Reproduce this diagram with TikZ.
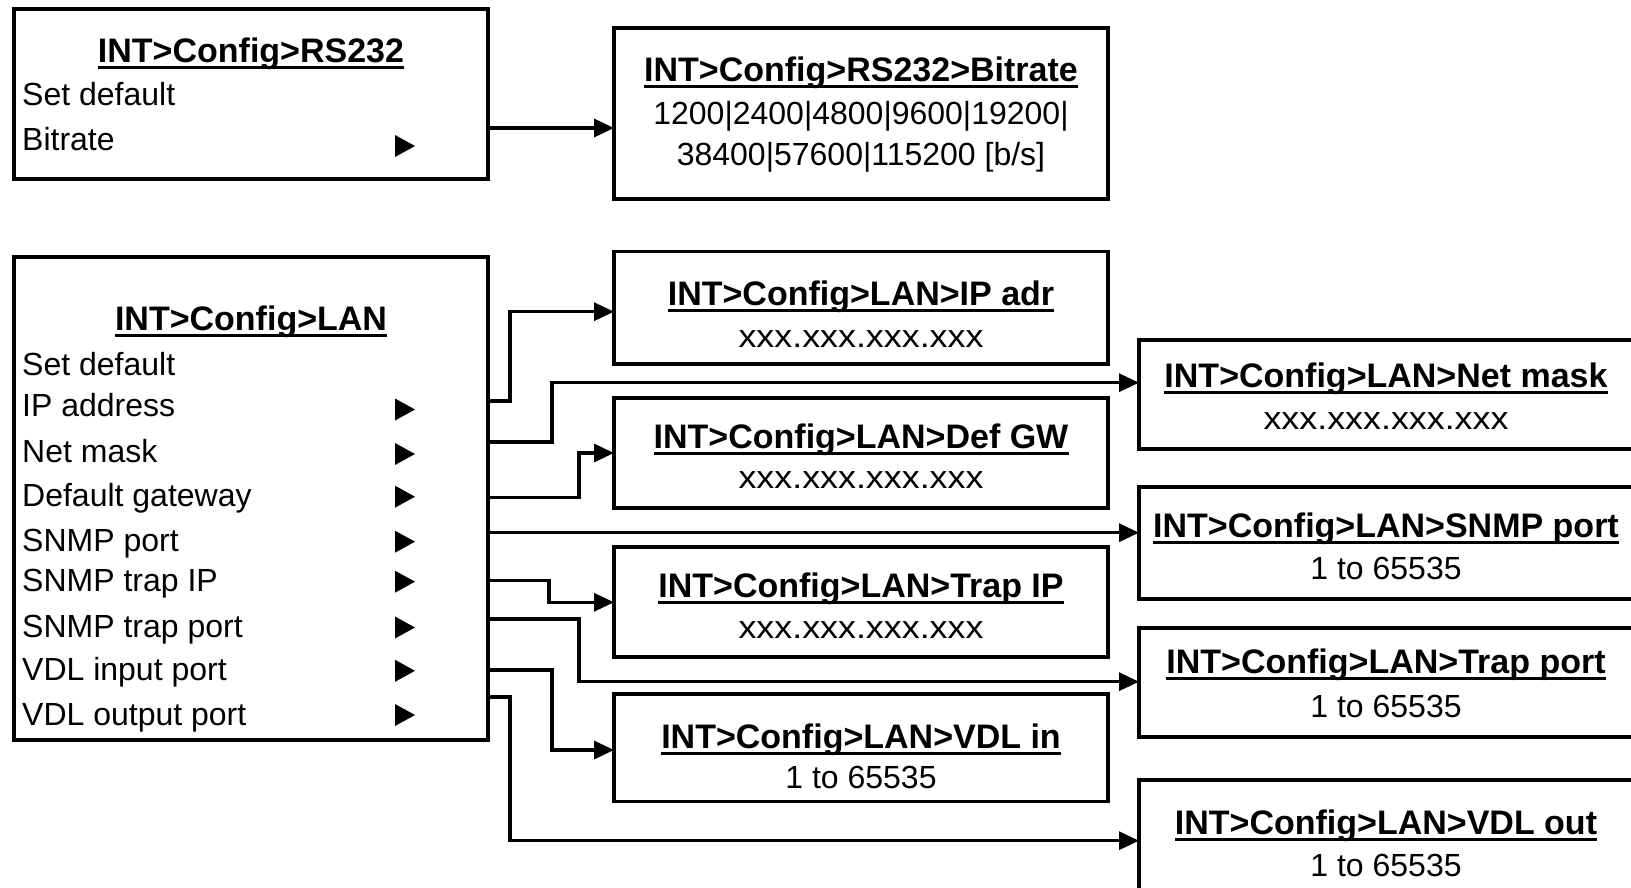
\documentclass[tikz,border=0pt]{standalone}
\usepackage{fontspec}
\setmainfont{Liberation Sans}
\usetikzlibrary{arrows.meta,calc}
\begin{document}
\begin{tikzpicture}[x=1pt,y=-1pt,
  box/.style={draw, line width=3.2pt, rectangle, inner sep=0pt, outer sep=0pt},
  item/.style={font=\fontsize{32}{38}\selectfont, inner sep=0pt, anchor=base west},
  ttl/.style={font=\fontsize{34}{40}\selectfont\bfseries, inner sep=0pt, anchor=base},
  val/.style={font=\fontsize{32}{38}\selectfont, inner sep=0pt, anchor=base},
  ul/.style={line width=3pt},
  conn/.style={line width=3.2pt, -{Triangle[length=20pt,width=18pt]}},
  tri/.pic={\fill (-10,-11) -- (10,0) -- (-10,11) -- cycle;}
]
\useasboundingbox (0,0) rectangle (1631,888);
\fill[white] (0,0) rectangle (1631,888);
\clip (0,0) rectangle (1631,888);

% boxes
\node[box, minimum width=474pt, minimum height=170pt] (rs) at (251,94) {};
\node[box, minimum width=494pt, minimum height=171pt] (bit) at (861,113.5) {};
\node[box, minimum width=474pt, minimum height=483pt] (lan) at (251,498.5) {};
\node[box, minimum width=494pt, minimum height=112.5pt] (ipadr) at (861,307.75) {};
\node[box, minimum width=494pt, minimum height=110pt] (defgw) at (861,453) {};
\node[box, minimum width=494pt, minimum height=110pt] (trapip) at (861,602) {};
\node[box, minimum width=494pt, minimum height=107.5pt] (vdlin) at (861,747.75) {};
\node[box, minimum width=496pt, minimum height=109pt] (netmask) at (1387,394.5) {};
\node[box, minimum width=496pt, minimum height=112pt] (snmp) at (1387,543) {};
\node[box, minimum width=496pt, minimum height=109pt] (trapport) at (1387,682.5) {};
\node[box, minimum width=496pt, minimum height=130pt] (vdlout) at (1387,845) {};

% RS232 menu
\node[ttl] (t-rs) at (251,63) {INT>Config>RS232};
\node[item] (rs-def) at (22,106) {Set default};
\node[item] (rs-bit) at (22,150) {Bitrate};
\pic at (405,146) {tri};

% Bitrate
\node[ttl] (t-bit) at (861,82) {INT>Config>RS232>Bitrate};
\node[val] (v-bit1) at (861,125) {1200|2400|4800|9600|19200|};
\node[val] (v-bit2) at (861,166) {38400|57600|115200 [b/s]};

% LAN menu
\node[ttl] (t-lan) at (251,330) {INT>Config>LAN};
\node[item] (i0) at (22,375) {Set default};
\node[item] (i1) at (22,416.7) {IP address};
\node[item] (i2) at (22,462.7) {Net mask};
\node[item] (i3) at (22,506.7) {Default gateway};
\node[item] (i4) at (22,551.7) {SNMP port};
\node[item] (i5) at (22,591.7) {SNMP trap IP};
\node[item] (i6) at (22,637.3) {SNMP trap port};
\node[item] (i7) at (22,680.7) {VDL input port};
\node[item] (i8) at (22,725) {VDL output port};
\foreach \yy in {409.5,454,496.7,541.7,581.7,627.5,670.8,715} {\pic at (405,\yy) {tri};}

% middle column texts
\node[ttl] (t-ip) at (861,305) {INT>Config>LAN>IP adr};
\node[val] (v-ip) at (861,347) {\scalebox{1.12}[1]{xxx.xxx.xxx.xxx}};
\node[ttl] (t-gw) at (861,448) {INT>Config>LAN>Def GW};
\node[val] (v-gw) at (861,488) {\scalebox{1.12}[1]{xxx.xxx.xxx.xxx}};
\node[ttl] (t-tip) at (861,597) {INT>Config>LAN>Trap IP};
\node[val] (v-tip) at (861,638) {\scalebox{1.12}[1]{xxx.xxx.xxx.xxx}};
\node[ttl] (t-vin) at (861,748) {INT>Config>LAN>VDL in};
\node[val] (v-vin) at (861,788) {1 to 65535};

% right column texts
\node[ttl] (t-nm) at (1386,387) {INT>Config>LAN>Net mask};
\node[val] (v-nm) at (1386,429) {\scalebox{1.12}[1]{xxx.xxx.xxx.xxx}};
\node[ttl] (t-sp) at (1386,537) {INT>Config>LAN>SNMP port};
\node[val] (v-sp) at (1386,579) {1 to 65535};
\node[ttl] (t-tp) at (1386,673) {INT>Config>LAN>Trap port};
\node[val] (v-tp) at (1386,717) {1 to 65535};
\node[ttl] (t-vo) at (1386,834) {INT>Config>LAN>VDL out};
\node[val] (v-vo) at (1386,876) {1 to 65535};

% underlines
\foreach \n in {t-rs,t-bit,t-lan,t-ip,t-gw,t-tip,t-vin,t-nm,t-sp,t-tp,t-vo}
  \draw[ul] ($(\n.base west)+(0,5)$) -- ($(\n.base east)+(0,5)$);

% connectors
\draw[conn] ($(rs.north east)+(0,119)$) -- ($(bit.north west)+(0,100)$);
\draw[conn] ($(lan.north east)+(0,144)$) -- ++(22,0) |- ($(ipadr.north west)+(0,60.2)$);
\draw[conn] ($(lan.north east)+(0,185)$) -- ++(64,0) |- ($(netmask.north west)+(0,42.7)$);
\draw[conn] ($(lan.north east)+(0,240.7)$) -- ++(91,0) |- ($(defgw.north west)+(0,55)$);
\draw[conn] ($(lan.north east)+(0,275.7)$) -- ($(snmp.north west)+(0,45.7)$);
\draw[conn] ($(lan.north east)+(0,323.7)$) -- ++(61,0) |- ($(trapip.north west)+(0,55.3)$);
\draw[conn] ($(lan.north east)+(0,362)$) -- ++(91,0) |- ($(trapport.north west)+(0,53.7)$);
\draw[conn] ($(lan.north east)+(0,413)$) -- ++(64,0) |- ($(vdlin.north west)+(0,56)$);
\draw[conn] ($(lan.north east)+(0,440)$) -- ++(22,0) |- ($(vdlout.north west)+(0,60.7)$);
\end{tikzpicture}
\end{document}
